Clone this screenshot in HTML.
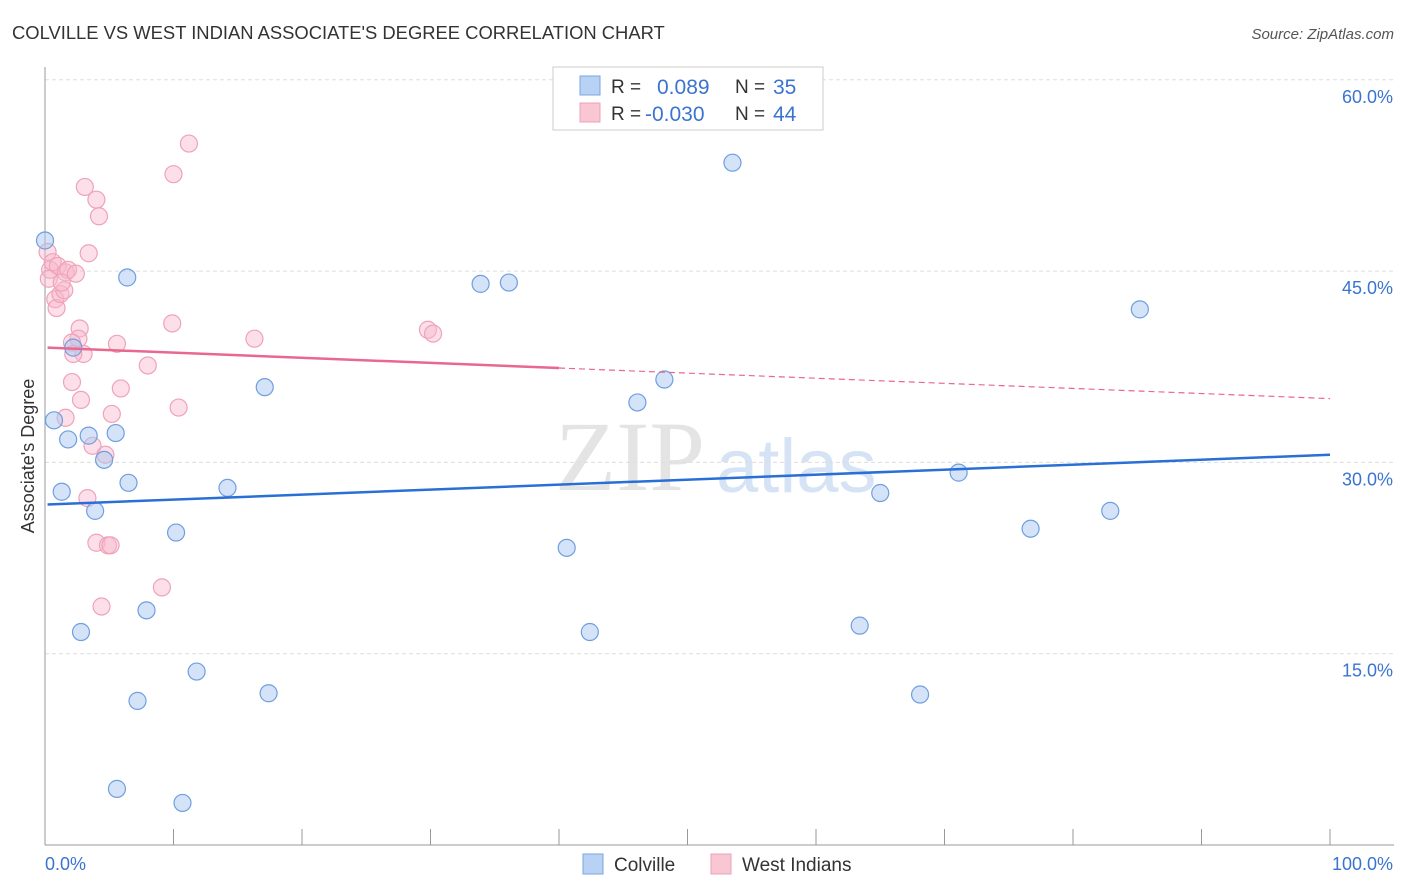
<!DOCTYPE html>
<html><head><meta charset="utf-8"><style>
body{margin:0;background:#fff;font-family:"Liberation Sans",sans-serif;}
svg{display:block}
</style></head><body>
<svg id="chart" width="1406" height="892">
<text x="12" y="39" font-size="18.4" fill="#333">COLVILLE VS WEST INDIAN ASSOCIATE'S DEGREE CORRELATION CHART</text>
<text x="1394" y="39" font-size="15" fill="#555" text-anchor="end" font-style="italic">Source: ZipAtlas.com</text>
<g>
<text x="555" y="490" font-family="Liberation Serif,serif" font-size="100" fill="#e4e4e4">ZIP</text>
<text x="716" y="492" font-size="76" fill="#d5e3f5">atlas</text>
</g>
<g id="grid"></g>
<g id="axes"></g>
<g id="marks"></g>
<text transform="translate(34,456) rotate(-90)" font-size="18" fill="#333" text-anchor="middle">Associate's Degree</text>
<g>
<rect x="553" y="67" width="270" height="63" fill="#fff" stroke="#ccc"/>
<rect x="580" y="76" width="20" height="19" fill="#b8d2f5" stroke="#7aa6e0"/>
<rect x="580" y="103" width="20" height="19" fill="#f9c6d4" stroke="#eca0b6"/>
<text x="611" y="93" font-size="19" fill="#333">R =</text><text x="657" y="94" font-size="21" fill="#3a74d0">0.089</text>
<text x="735" y="93" font-size="19" fill="#333">N =</text><text x="773" y="94" font-size="21" fill="#3a74d0">35</text>
<text x="611" y="120" font-size="19" fill="#333">R =</text><text x="645" y="121" font-size="21" fill="#3a74d0">-0.030</text>
<text x="735" y="120" font-size="19" fill="#333">N =</text><text x="773" y="121" font-size="21" fill="#3a74d0">44</text>
</g>
<g>
<rect x="583" y="854" width="20" height="20" fill="#b8d2f5" stroke="#7aa6e0"/>
<text x="614" y="871" font-size="19" fill="#333">Colville</text>
<rect x="711" y="854" width="20" height="20" fill="#f9c6d4" stroke="#eca0b6"/>
<text x="742" y="871" font-size="19" fill="#333">West Indians</text>
</g>
</svg>
<script>
const yTicks=[15,30,45,60];
const yTickLabels=["15.0%","30.0%","45.0%","60.0%"];
const xTickLabels=["0.0%","100.0%"];
const colvilleX=[0,6.4,33.9,36.1,53.5,85.2,17.1,48.2,46.1,0.7,1.8,3.4,5.5,4.6,6.5,1.3,14.2,3.9,10.2,40.6,65.0,71.1,76.7,82.9,7.9,2.8,42.4,63.4,11.8,17.4,7.2,68.1,5.6,10.7,2.2];
const colvilleY=[47.4,44.5,44.0,44.1,53.5,42.0,35.9,36.5,34.7,33.3,31.8,32.1,32.3,30.2,28.4,27.7,28.0,26.2,24.5,23.3,27.6,29.2,24.8,26.2,18.4,16.7,16.7,17.2,13.6,11.9,11.3,11.8,4.4,3.3,39.0];
const westX=[0.2,0.4,0.6,1.0,0.8,0.9,1.2,1.5,1.6,1.8,2.4,3.4,3.1,4.0,4.2,10.0,11.2,2.7,2.6,2.1,3.0,2.2,5.6,9.9,16.3,29.8,30.2,8.0,5.9,2.1,2.8,1.6,5.2,10.4,3.7,4.7,3.3,4.0,4.9,5.1,4.4,9.1,0.3,1.3];
const westY=[46.5,45.1,45.7,45.4,42.8,42.1,43.2,43.5,44.9,45.1,44.8,46.4,51.6,50.6,49.3,52.6,55.0,40.5,39.7,39.4,38.5,38.5,39.3,40.9,39.7,40.4,40.1,37.6,35.8,36.3,34.9,33.5,33.8,34.3,31.3,30.6,27.2,23.7,23.5,23.5,18.7,20.2,44.4,44.1];
const colvilleTrend=[26.7,30.6];
const westTrend=[39.0,35.0];
const westTrendSolidEnd=40;

const NS="http://www.w3.org/2000/svg";
const X0=45,X1=1330,Y0=845,Ypx15=191.3;
const sx=v=>X0+(X1-X0)*v/100;
const sy=v=>Y0-v*Ypx15/15;
function mk(tag,attrs,parent){const e=document.createElementNS(NS,tag);for(const k in attrs)e.setAttribute(k,attrs[k]);parent.appendChild(e);return e;}
const grid=document.getElementById('grid'),axes=document.getElementById('axes'),marks=document.getElementById('marks');
yTicks.forEach((t,i)=>{
 const l=mk('line',{x1:X0,x2:1394,y1:sy(t),y2:sy(t),stroke:'#ddd','stroke-dasharray':'4,3'},grid);
 
 
 const tx=mk('text',{x:1393,y:sy(t)+23,'font-size':18,fill:'#3a74d0','text-anchor':'end'},axes);
 tx.textContent=yTickLabels[i];
 
 
});
const ya=mk('line',{x1:X0,x2:X0,y1:67,y2:Y0,stroke:'#999'},axes);


const xa=mk('line',{x1:X0,x2:1394,y1:Y0,y2:Y0,stroke:'#999'},axes);


for(let i=1;i<=10;i++){
 const t=mk('line',{x1:sx(i*10),x2:sx(i*10),y1:829,y2:Y0,stroke:'#999'},axes);
 
 
}
const xl0=mk('text',{x:45,y:870,'font-size':18,fill:'#3a74d0'},axes);xl0.textContent=xTickLabels[0];


const xl1=mk('text',{x:1393,y:870,'font-size':18,fill:'#3a74d0','text-anchor':'end'},axes);xl1.textContent=xTickLabels[1];



westX.forEach((v,i)=>{
 const c=mk('circle',{cx:sx(v),cy:sy(westY[i]),r:8.5,fill:'rgba(248,184,204,0.45)',stroke:'#eea3bb','stroke-width':1.2},marks);
 
 
});
colvilleX.forEach((v,i)=>{
 const c=mk('circle',{cx:sx(v),cy:sy(colvilleY[i]),r:8.5,fill:'rgba(170,200,240,0.5)',stroke:'#6f9fe0','stroke-width':1.2},marks);
 
 
});
const wAt=x=>westTrend[0]+(westTrend[1]-westTrend[0])*x/100;
const wl=mk('line',{x1:sx(0.2),y1:sy(wAt(0)),x2:sx(westTrendSolidEnd),y2:sy(wAt(westTrendSolidEnd)),stroke:'#e8688f','stroke-width':2.5},marks);


const wd=mk('line',{x1:sx(westTrendSolidEnd),y1:sy(wAt(westTrendSolidEnd)),x2:sx(100),y2:sy(wAt(100)),stroke:'#e8688f','stroke-width':1.2,'stroke-dasharray':'6,4'},marks);


const cl=mk('line',{x1:sx(0.2),y1:sy(colvilleTrend[0]),x2:sx(100),y2:sy(colvilleTrend[1]),stroke:'#2a6fd6','stroke-width':2.5},marks);


</script>
</body></html>
